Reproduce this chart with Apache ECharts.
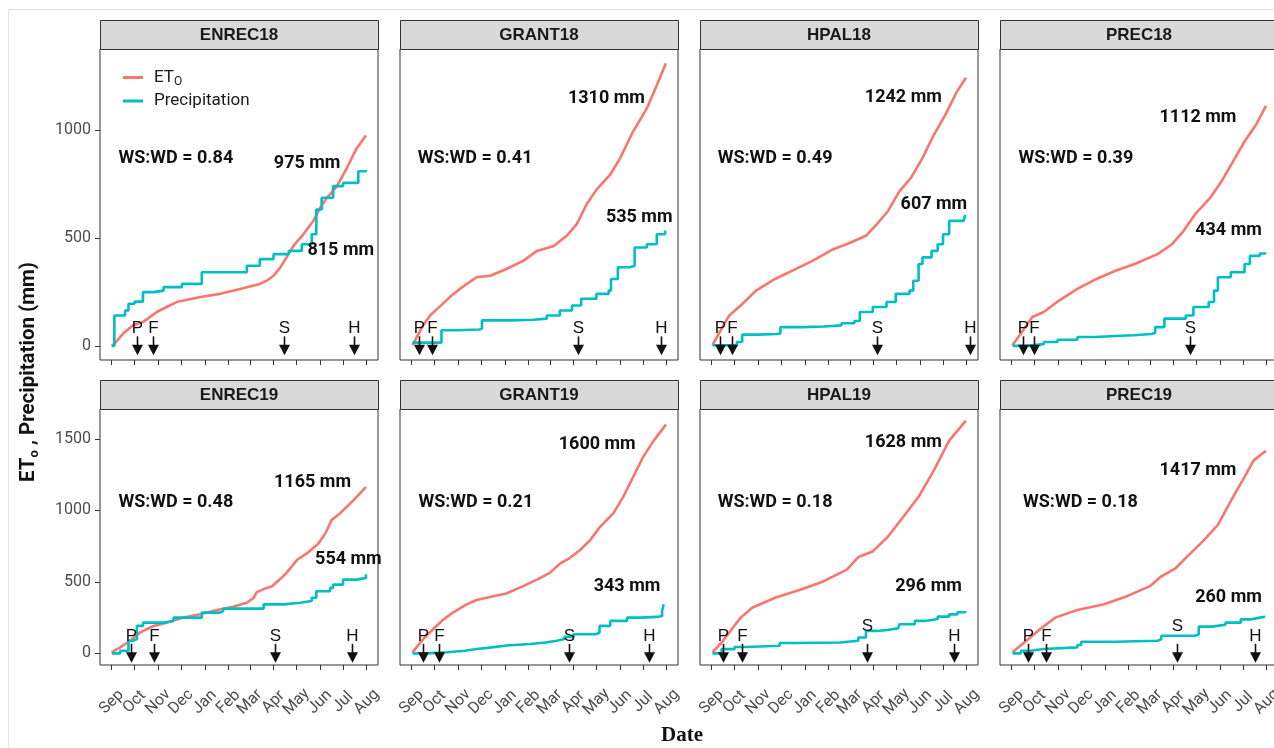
<!DOCTYPE html>
<html>
<head>
<meta charset="utf-8">
<script src="https://cdn.jsdelivr.net/npm/echarts@6/dist/echarts.min.js"></script>
<style>
html,body{margin:0;padding:0;background:#fff;}
#chart{width:1274px;height:748px;}
</style>
</head>
<body>
<div id="chart"></div>
<script>
// ---------- DATA (day = days since 1 Sep; values in mm) ----------
const PANELS = ['ENREC18','GRANT18','HPAL18','PREC18','ENREC19','GRANT19','HPAL19','PREC19'];
const MONTH_TICKS = [0,30,61,91,122,153,181,212,242,273,303,334];
const MONTH_LABELS = ['Sep','Oct','Nov','Dec','Jan','Feb','Mar','Apr','May','Jun','Jul','Aug'];
const Y_TICKS_ROW1 = [0,500,1000];
const Y_TICKS_ROW2 = [0,500,1000,1500];

const ETO_TOTAL = [975,1310,1242,1112,1165,1600,1628,1417];
const PRECIP_TOTAL = [815,535,607,434,554,343,296,260];
const WS_WD = ['0.84','0.41','0.49','0.39','0.48','0.21','0.18','0.18'];

const ENREC18_ETO = [[0,0],[4,11],[15,57],[28,95],[41,110],[59,157],[72,180],[85,203],[116,226],[142,241],[168,264],[194,287],[203,302],[212,325],[221,364],[229,410],[238,463],[251,517],[264,579],[273,640],[282,686],[295,740],[308,824],[321,916],[333,975]];
const ENREC18_PCP = [[0,0],[3.5,141],[17.5,164],[22,195],[30,205],[41,249],[55,256],[68,272],[92,287],[118,341],[177,371],[194,402],[212,425],[232,440],[249,471],[262,517],[268,632],[275,686],[290,740],[303,755],[323,809],[333,815]];
const GRANT18_ETO = [[1,3],[15,95],[24,141],[37,183],[50,226],[63,264],[85,318],[103,325],[124,356],[146,394],[164,440],[186,463],[203,510],[216,563],[229,655],[242,724],[260,793],[273,870],[290,993],[308,1100],[321,1208],[333,1310]];
const GRANT18_PCP = [[1,15],[39,72],[60,76],[89,80],[92,118],[130,121],[159,126],[177,141],[194,164],[210,187],[222,218],[242,241],[258,256],[261,310],[270,364],[286,371],[292,456],[308,471],[321,517],[332,535]];
const HPAL18_ETO = [[1,3],[13,80],[23,141],[38,187],[58,256],[83,310],[107,351],[132,394],[157,444],[182,479],[202,510],[216,563],[231,625],[246,717],[261,778],[276,870],[291,978],[306,1070],[321,1177],[333,1242]];
const HPAL18_PCP = [[1,3],[33,18],[40,52],[60,55],[85,57],[90,87],[120,90],[147,95],[170,105],[187,115],[194,157],[211,180],[229,203],[241,241],[259,256],[264,302],[271,379],[276,410],[288,440],[296,471],[303,517],[311,579],[330,586],[332,607]];
const PREC18_ETO = [[1,3],[12,57],[27,134],[42,157],[62,210],[86,264],[111,310],[136,348],[161,379],[191,425],[210,471],[225,532],[240,609],[260,686],[275,763],[290,855],[305,947],[320,1024],[333,1112]];
const PREC18_PCP = [[1,0],[20,8],[42,18],[60,28],[86,41],[110,46],[136,49],[160,55],[183,61],[188,87],[200,126],[228,141],[238,180],[258,203],[265,256],[270,318],[287,341],[305,379],[312,417],[325,428],[332,434]];
const ENREC19_ETO = [[0,7],[11,42],[24,88],[37,146],[55,192],[72,215],[94,250],[116,273],[138,303],[159,326],[177,354],[186,389],[190,428],[203,458],[210,470],[220,516],[229,563],[243,655],[256,701],[271,771],[280,840],[288,933],[299,979],[317,1072],[333,1165]];
const ENREC19_PCP = [[0,0],[11,18],[22,88],[28,100],[33,192],[41,215],[68,227],[81,250],[118,285],[142,296],[146,313],[199,343],[225,354],[247,366],[262,389],[268,435],[286,458],[290,481],[303,516],[321,528],[333,554]];
const GRANT19_ETO = [[1,7],[15,100],[28,169],[41,234],[55,289],[72,343],[85,373],[107,400],[124,419],[146,470],[164,516],[181,563],[194,627],[207,667],[221,725],[234,794],[247,887],[264,979],[277,1095],[290,1234],[303,1373],[317,1488],[333,1600]];
const GRANT19_PCP = [[1,0],[20,8],[46,18],[70,30],[85,42],[105,55],[124,65],[155,76],[175,88],[190,100],[200,115],[212,134],[242,146],[246,192],[260,227],[282,250],[300,255],[321,262],[328,296],[330,343]];
const HPAL19_ETO = [[1,7],[13,76],[28,181],[38,250],[53,319],[83,389],[117,447],[147,505],[177,586],[192,674],[211,713],[231,817],[251,956],[271,1095],[291,1280],[311,1488],[333,1628]];
const HPAL19_PCP = [[1,0],[13,30],[30,45],[45,53],[89,72],[109,76],[168,88],[192,111],[202,157],[216,164],[230,175],[244,187],[246,204],[266,227],[280,240],[296,257],[311,273],[322,288],[332,296]];
const PREC19_ETO = [[1,7],[22,100],[37,169],[57,250],[86,303],[121,343],[151,400],[181,470],[196,539],[215,597],[230,678],[250,782],[270,898],[290,1095],[305,1234],[317,1350],[333,1417]];
const PREC19_PCP = [[1,0],[12,18],[25,30],[42,42],[86,58],[91,81],[136,88],[191,100],[196,123],[240,134],[245,187],[262,200],[280,215],[300,238],[314,250],[325,256],[332,260]];

// crop stages: P = planting, F = fertilization, S = side-dress, H = harvest (day, letter)
const ENREC18_EVENTS = [[32.8,'P'],[54.6,'F'],[226,'S'],[317.5,'H']];
const GRANT18_EVENTS = [[9.6,'P'],[26,'F'],[217.5,'S'],[326,'H']];
const HPAL18_EVENTS = [[10.6,'P'],[27,'F'],[216.5,'S'],[338,'H']];
const PREC18_EVENTS = [[14.5,'P'],[29.5,'F'],[234,'S']];
const ENREC19_EVENTS = [[25,'P'],[55.5,'F'],[214.4,'S'],[315,'H']];
const GRANT19_EVENTS = [[15.3,'P'],[35.8,'F'],[206,'S'],[311,'H']];
const HPAL19_EVENTS = [[14.5,'P'],[40.3,'F'],[204,'S'],[318,'H']];
const PREC19_EVENTS = [[22,'P'],[45.4,'F'],[216.5,'S'],[318.7,'H']];

// ---------- LAYOUT (annotation anchor points in data units) ----------
const ETO_LABEL_AT = [[256,844],[255,1146],[251,1151],[244,1059],[263,1192],[243,1460],[251,1476],[244,1280]];
const PCP_LABEL_AT = [[300,441],[298,597],[291,656],[284,533],[310,660],[282,469],[284,469],[284,393]];
const WS_LABEL_AT = [[84,870],[83,870],[83,870],[84,870],[84,1055],[84,1055],[83,1055],[90,1055]];
const RAISED_LETTER = {HPAL19: 'S', PREC19: 'S'};

const ETO = [ENREC18_ETO,GRANT18_ETO,HPAL18_ETO,PREC18_ETO,ENREC19_ETO,GRANT19_ETO,HPAL19_ETO,PREC19_ETO];
const PCP = [ENREC18_PCP,GRANT18_PCP,HPAL18_PCP,PREC18_PCP,ENREC19_PCP,GRANT19_PCP,HPAL19_PCP,PREC19_PCP];
const EVENTS = [ENREC18_EVENTS,GRANT18_EVENTS,HPAL18_EVENTS,PREC18_EVENTS,ENREC19_EVENTS,GRANT19_EVENTS,HPAL19_EVENTS,PREC19_EVENTS];

const FONT = 'Roboto';
const ETO_COLOR = '#F8766D';
const PCP_COLOR = '#00BFC4';
const PANEL_W = 278;
const ROWS = [
  {stripTop: 20, top: 49, height: 311, min: -65.5, max: 1375.5, ticks: Y_TICKS_ROW1},
  {stripTop: 380, top: 409, height: 256, min: -81.4, max: 1709.4, ticks: Y_TICKS_ROW2}
];
const X_MIN = -15.3, X_MAX = 348.8;

const chart = echarts.init(document.getElementById('chart'), null, {renderer: 'canvas'});

const grids = [], xAxes = [], yAxes = [], series = [], graphics = [];

graphics.push({type: 'rect', shape: {x: 8.5, y: 9.5, width: 1300, height: 800}, style: {fill: 'none', stroke: '#E3E3E3', lineWidth: 1}, silent: true});

PANELS.forEach((name, i) => {
  const r = Math.floor(i / 4), c = i % 4;
  const row = ROWS[r];
  const left = 100 + 300 * c;
  grids.push({left: left, top: row.top, width: PANEL_W, height: row.height, show: true,
    borderColor: '#333333', borderWidth: 1, backgroundColor: '#fff', containLabel: false, outerBoundsMode: 'none'});
  xAxes.push({
    type: 'value', gridIndex: i, min: X_MIN, max: X_MAX, position: 'bottom',
    axisLine: {show: false, onZero: false}, splitLine: {show: false},
    axisTick: {show: true, customValues: MONTH_TICKS, length: 5, lineStyle: {color: '#333', width: 1}},
    axisLabel: {show: r === 1, customValues: MONTH_TICKS, hideOverlap: false,
      formatter: v => MONTH_LABELS[MONTH_TICKS.indexOf(v)] || '',
      rotate: 45, align: 'center', verticalAlign: 'middle', margin: 37, lineHeight: 12,
      fontSize: 16, color: '#4D4D4D', fontFamily: FONT}
  });
  yAxes.push({
    type: 'value', gridIndex: i, min: row.min, max: row.max, position: 'left',
    axisLine: {show: false, onZero: false}, splitLine: {show: false},
    axisTick: {show: c === 0, customValues: row.ticks, length: 5, lineStyle: {color: '#333', width: 1}},
    axisLabel: {show: c === 0, customValues: row.ticks, formatter: v => String(v), hideOverlap: false,
      fontSize: 16, color: '#4D4D4D', margin: 9, fontFamily: FONT}
  });
  series.push({
    type: 'line', name: 'ETo', xAxisIndex: i, yAxisIndex: i, data: ETO[i],
    showSymbol: false, symbol: 'none', lineStyle: {color: ETO_COLOR, width: 2.6}, itemStyle: {color: ETO_COLOR},
    z: 3, animation: false, silent: true
  });
  series.push({
    type: 'line', name: 'Precipitation', xAxisIndex: i, yAxisIndex: i, data: PCP[i], step: 'end',
    showSymbol: false, symbol: 'none', lineStyle: {color: PCP_COLOR, width: 2.6}, itemStyle: {color: PCP_COLOR},
    z: 4, animation: false, silent: true
  });
  const ev = EVENTS[i];
  series.push({
    type: 'custom', xAxisIndex: i, yAxisIndex: i, z: 6, animation: false, silent: true, clip: false,
    data: ev.map(e => [e[0], 0]),
    encode: {x: 0, y: 1},
    renderItem: (params, api) => {
      const p = api.coord([api.value(0), 0]);
      const x = Math.round(p[0]) + 0.5;
      const tip = p[1] + 9.5;
      const letter = ev[params.dataIndex][1];
      const lift = RAISED_LETTER[name] === letter ? 10 : 0;
      return {type: 'group', children: [
        {type: 'line', shape: {x1: x, y1: tip - 19, x2: x, y2: tip - 9}, style: {stroke: '#111', lineWidth: 1.6}},
        {type: 'polygon', shape: {points: [[x - 5.5, tip - 10.5], [x + 5.5, tip - 10.5], [x, tip]]}, style: {fill: '#111'}},
        {type: 'text', style: {text: letter, x: x, y: tip - 18.5 - lift, align: 'center', verticalAlign: 'bottom',
          fontSize: 17, fontFamily: 'Liberation Sans', fill: '#111'}}
      ]};
    }
  });
  const labels = [
    {at: ETO_LABEL_AT[i], text: ETO_TOTAL[i] + ' mm'},
    {at: PCP_LABEL_AT[i], text: PRECIP_TOTAL[i] + ' mm'},
    {at: WS_LABEL_AT[i], text: 'WS:WD = ' + WS_WD[i]}
  ];
  series.push({
    type: 'custom', xAxisIndex: i, yAxisIndex: i, z: 7, animation: false, silent: true, clip: false,
    data: labels.map(l => l.at),
    encode: {x: 0, y: 1},
    renderItem: (params, api) => {
      const p = api.coord([api.value(0), api.value(1)]);
      return {type: 'text', style: {text: labels[params.dataIndex].text, x: p[0], y: p[1],
        align: 'center', verticalAlign: 'middle', fontSize: 18, fontWeight: 'bold', fontFamily: FONT, fill: '#111'}};
    }
  });
  // strip header
  graphics.push({type: 'rect', shape: {x: left + 0.5, y: row.stripTop + 0.5, width: PANEL_W, height: row.top - row.stripTop},
    style: {fill: '#D9D9D9', stroke: '#333', lineWidth: 1}, silent: true, z: 10});
  graphics.push({type: 'text', style: {text: name, x: left + PANEL_W / 2, y: (row.stripTop + row.top) / 2 + 1,
    align: 'center', verticalAlign: 'middle', fontSize: 17, fontWeight: 'bold', fontFamily: 'Liberation Sans', fill: '#1A1A1A'}, silent: true, z: 11});
});

// axis titles
graphics.push({type: 'text', x: 29, y: 372, rotation: Math.PI / 2, silent: true, z: 11,
  style: {text: '{b|ET}{s|o}{b| , Precipitation (mm)}', align: 'center', verticalAlign: 'middle',
    rich: {b: {fontSize: 20.5, fontWeight: 'bold', fontFamily: FONT, fill: '#111', lineHeight: 24},
           s: {fontSize: 13, fontWeight: 'bold', fontFamily: FONT, fill: '#111', lineHeight: 14, verticalAlign: 'bottom'}}}});
graphics.push({type: 'text', silent: true, z: 11,
  style: {text: 'Date', x: 682, y: 736, align: 'center', verticalAlign: 'middle',
    fontSize: 21, fontWeight: 'bold', fontFamily: 'Liberation Serif', fill: '#111'}});

chart.setOption({
  animation: false,
  backgroundColor: '#fff',
  grid: grids,
  xAxis: xAxes,
  yAxis: yAxes,
  legend: {
    data: ['ETo', 'Precipitation'], orient: 'vertical', left: 123, top: 69, padding: 0,
    itemWidth: 20, itemHeight: 3, icon: 'rect', itemGap: 5, selectedMode: false,
    formatter: n => n === 'ETo' ? '{a|ET}{s|O}' : '{a|Precipitation}',
    textStyle: {fontSize: 17, color: '#1A1A1A', fontFamily: FONT, padding: [0, 0, 0, 6],
      rich: {a: {fontSize: 17, lineHeight: 20, fontFamily: FONT, color: '#1A1A1A'},
             s: {fontSize: 12, lineHeight: 12, fontFamily: FONT, color: '#1A1A1A', verticalAlign: 'bottom'}}}
  },
  graphic: graphics,
  series: series
});
</script>
</body>
</html>
